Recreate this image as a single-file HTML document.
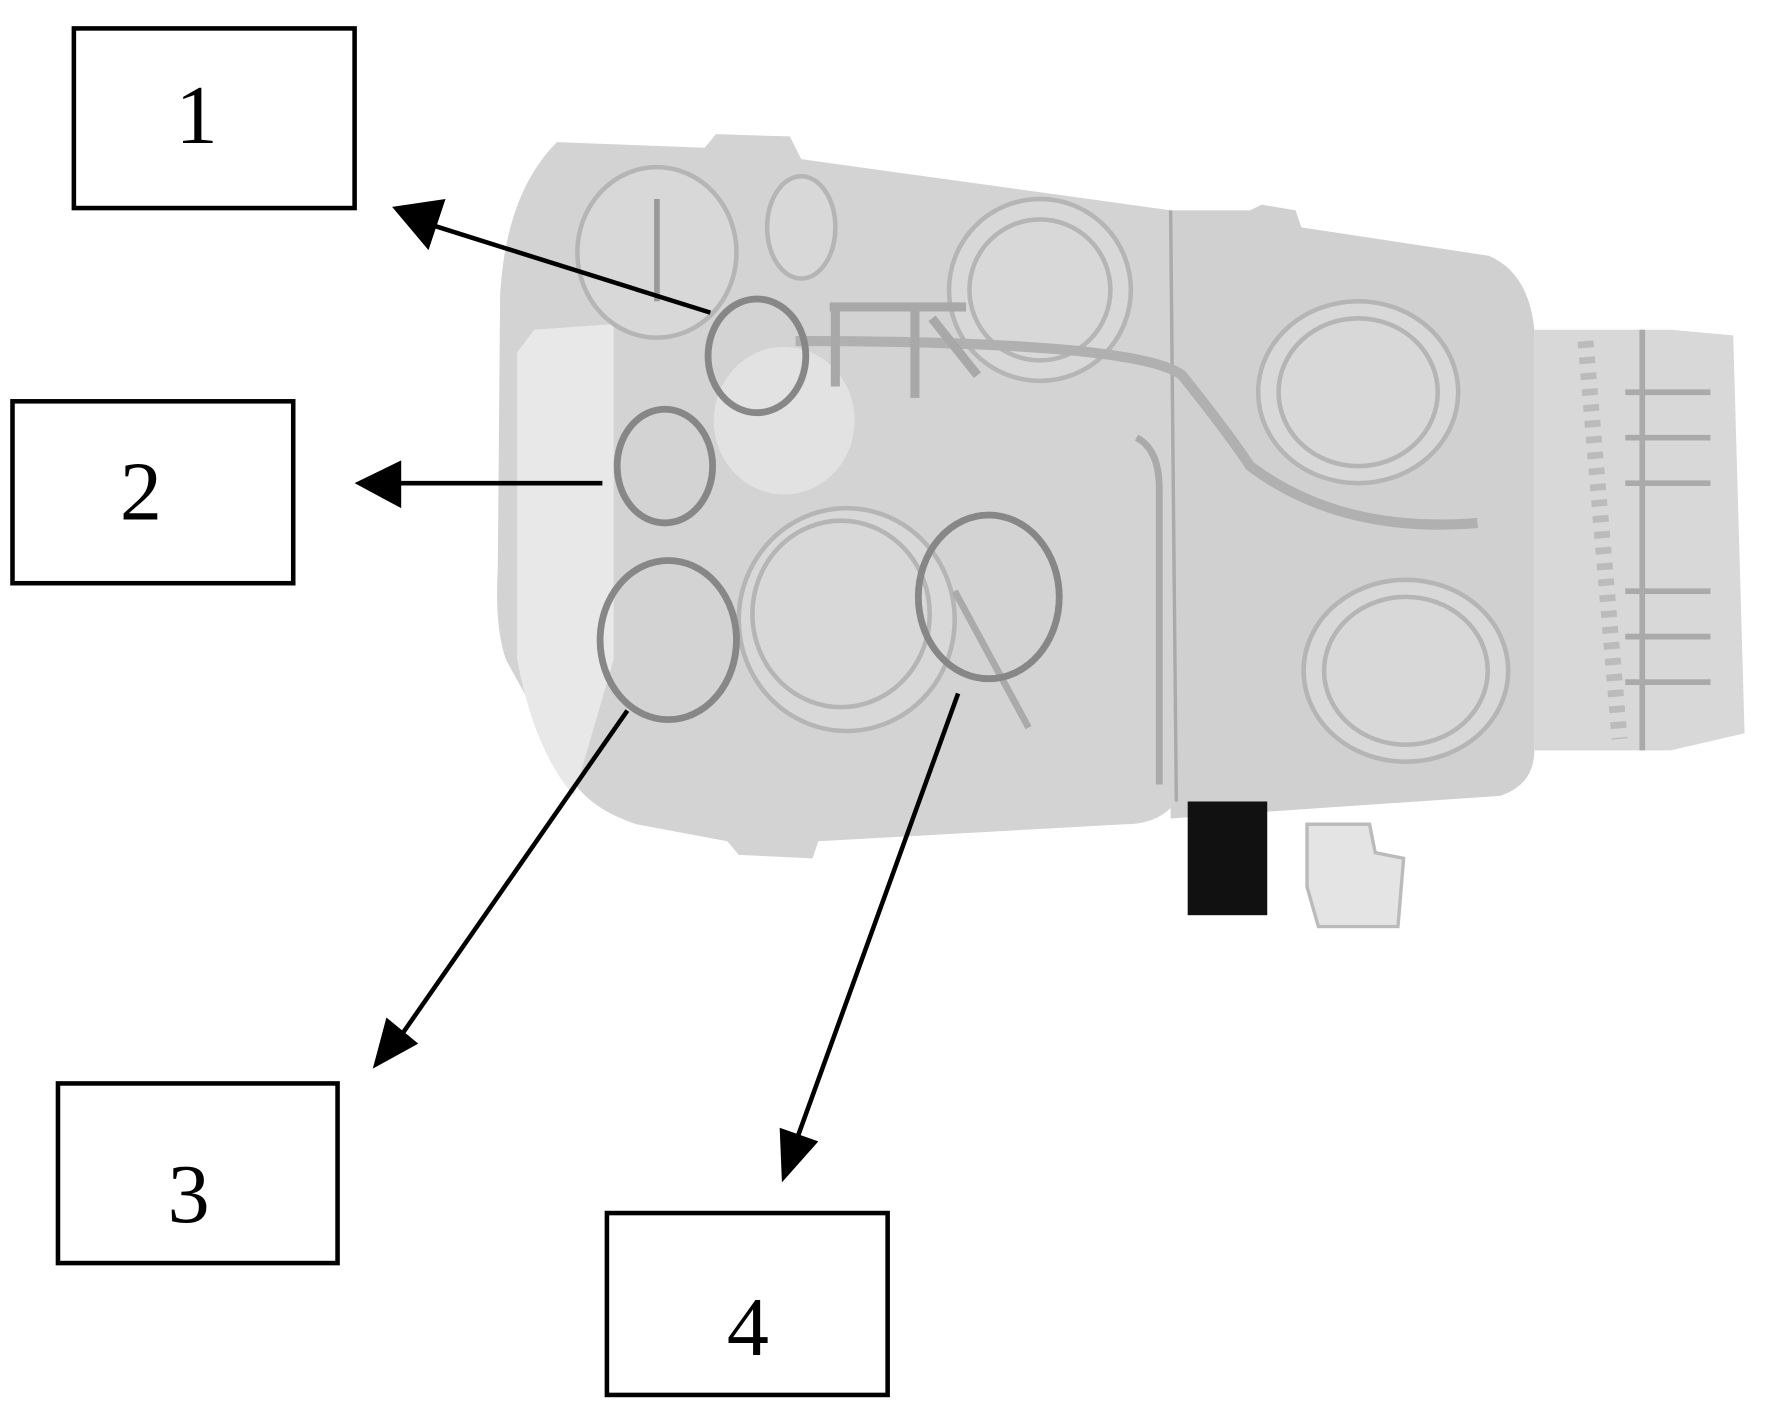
<!DOCTYPE html>
<html><head><meta charset="utf-8"><style>
html,body{margin:0;padding:0;background:#fff;}
svg{display:block}
text{font-family:"Liberation Serif",serif;}
</style></head><body>
<svg width="1773" height="1412" viewBox="0 0 1560 1242" preserveAspectRatio="none">
<!-- right connector -->
<path d="M1350,290 L1470,290 L1525,295 L1535,645 L1470,660 L1350,660 z" fill="#d8d8d8"/>
<g stroke="#aaa" stroke-width="5">
<line x1="1445" y1="290" x2="1445" y2="660"/>
<line x1="1430" y1="345" x2="1505" y2="345"/><line x1="1430" y1="385" x2="1505" y2="385"/>
<line x1="1430" y1="425" x2="1505" y2="425"/><line x1="1430" y1="520" x2="1505" y2="520"/>
<line x1="1430" y1="560" x2="1505" y2="560"/><line x1="1430" y1="600" x2="1505" y2="600"/>
</g>
<line x1="1395" y1="300" x2="1425" y2="650" stroke="#bbb" stroke-width="14" stroke-dasharray="6 8"/>
<!-- right body -->
<path d="M1030,185 L1100,185 L1110,180 L1140,185 L1145,200 L1310,225 Q1345,240 1350,290 L1350,660 Q1350,690 1320,700 L1100,715 L1030,720 z" fill="#d0d0d0"/>
<!-- left body -->
<path d="M490,125 L620,130 L630,118 L695,120 L705,140 L1030,185 L1035,705 Q1020,725 990,725 L720,740 L715,755 L650,752 L640,740 L560,725 Q515,710 500,680 L445,580 Q435,550 438,500 L440,260 Q445,170 490,125 z" fill="#d3d3d3"/>
<path d="M470,290 L540,285 L540,580 L505,700 Q470,660 455,580 L455,310 z" fill="#e8e8e8"/>
<line x1="1030" y1="185" x2="1035" y2="705" stroke="#aaa" stroke-width="3"/>
<path d="M1000,385 Q1020,395 1020,430 L1020,690" stroke="#aaa" stroke-width="6" fill="none"/>
<!-- lenses -->
<g fill="#d8d8d8" stroke="#b5b5b5" stroke-width="4">
<ellipse cx="578" cy="222" rx="70" ry="75"/>
<ellipse cx="915" cy="255" rx="80" ry="80"/><ellipse cx="915" cy="255" rx="62" ry="62"/>
<ellipse cx="1195" cy="345" rx="88" ry="80"/><ellipse cx="1195" cy="345" rx="70" ry="65"/>
<ellipse cx="1237" cy="590" rx="90" ry="80"/><ellipse cx="1237" cy="590" rx="72" ry="65"/>
<ellipse cx="745" cy="545" rx="95" ry="98"/><ellipse cx="740" cy="540" rx="78" ry="82"/>
<ellipse cx="705" cy="200" rx="30" ry="45"/>
</g>
<ellipse cx="690" cy="370" rx="62" ry="65" fill="#e2e2e2"/>
<path d="M700,300 Q1000,300 1040,330 Q1080,380 1100,410 Q1180,470 1300,460" stroke="#b0b0b0" stroke-width="9" fill="none"/>
<path d="M730,270 L850,270 M735,270 L735,340 M805,270 L805,350 M820,280 L860,330" stroke="#a8a8a8" stroke-width="8" fill="none"/>
<line x1="578" y1="175" x2="578" y2="265" stroke="#999" stroke-width="5"/>
<line x1="840" y1="520" x2="905" y2="640" stroke="#aaa" stroke-width="6"/>
<!-- black block and connector -->
<rect x="1045" y="705" width="70" height="100" fill="#111"/>
<path d="M1150,725 L1205,725 L1210,750 L1235,755 L1230,815 L1160,815 L1150,780 z" fill="#e4e4e4" stroke="#bbb" stroke-width="3"/>
<!-- gray circles -->
<g fill="none" stroke="#878787" stroke-width="6">
<ellipse cx="666" cy="313" rx="43" ry="50"/>
<ellipse cx="585" cy="410" rx="42" ry="50"/>
<ellipse cx="588" cy="563" rx="60" ry="70"/>
<ellipse cx="870" cy="525" rx="62" ry="72"/>
</g>
<!-- arrows -->
<g stroke="#000" stroke-width="4" fill="none">
<line x1="625" y1="275" x2="380" y2="198"/>
<line x1="530" y1="425" x2="350" y2="425"/>
<line x1="552" y1="625" x2="350" y2="915"/>
<line x1="843" y1="610" x2="700" y2="1005"/>
</g>
<path d="M345,182 L392,175 L377,220 z" fill="#000"/>
<path d="M312,425 L353,405 L353,447 z" fill="#000"/>
<path d="M328,940 L340,895 L368,918 z" fill="#000"/>
<path d="M688,1040 L686,992 L720,1004 z" fill="#000"/>
<!-- boxes -->
<g fill="#fff" stroke="#000" stroke-width="4">
<rect x="65" y="25" width="247" height="158"/>
<rect x="11" y="353" width="247" height="160"/>
<rect x="51" y="953" width="246" height="158"/>
<rect x="534" y="1067" width="247" height="160"/>
</g>
<g font-size="74" text-anchor="middle" fill="#000">
<text x="173" y="126">1</text>
<text x="124" y="457">2</text>
<text x="166" y="1075">3</text>
<text x="658" y="1192">4</text>
</g>
</svg>
</body></html>
